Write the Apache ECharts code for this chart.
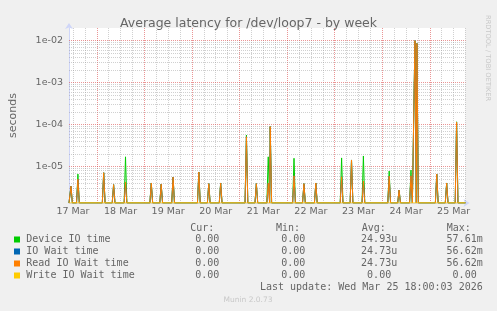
<!DOCTYPE html>
<html><head><meta charset="utf-8">
<script src="https://cdn.jsdelivr.net/npm/echarts@6/dist/echarts.min.js"></script>
<style>html,body{margin:0;padding:0;background:#F0F0F0;}#c{width:497px;height:311px;}</style>
</head><body><div id="c"></div>
<script>
// ---------- data ----------
const chartTitle = 'Average latency for /dev/loop7 - by week';
const yAxisName = 'seconds';
const dayLabels = ['17 Mar','18 Mar','19 Mar','20 Mar','21 Mar','22 Mar','23 Mar','24 Mar','25 Mar'];
// sample times in hours since 17 Mar 00:00 (values are zero between them)
const spikeHours = [11, 14.5, 27.5, 32.5, 38.5, 51.5, 56.5, 62.5, 75.5, 80.5, 86.5, 99.5, 104.5, 110.5, 111.5,
  123.5, 128.5, 134.5, 147.5, 152.5, 158.5, 171.5, 176.5, 182.5, 184.5, 185.5, 195.5, 200.5, 205.5];
const deviceIOTime = [3.4e-6, 6.6e-6, 7.1e-6, 3.7e-6, 1.7e-5, 4.05e-6, 3.8e-6, 5.6e-6, 7.4e-6, 3.9e-6, 4.05e-6, 5.6e-5, 3.9e-6, 1.7e-5, 8.9e-5,
  1.57e-5, 3.9e-6, 4.05e-6, 1.6e-5, 1.43e-5, 1.78e-5, 7.8e-6, 2.75e-6, 8.2e-6, 9.9e-3, 8.5e-3, 6.6e-6, 4.05e-6, 1.16e-4];
const ioWaitTime = [3.4e-6, 5.0e-6, 7.1e-6, 3.7e-6, 4.2e-6, 4.05e-6, 3.8e-6, 5.6e-6, 7.4e-6, 3.9e-6, 4.05e-6, 5.1e-5, 3.9e-6, 4.0e-6, 8.9e-5,
  6.0e-6, 3.9e-6, 4.05e-6, 5.7e-6, 1.43e-5, 4.5e-6, 5.9e-6, 2.75e-6, 6.0e-6, 9.9e-3, 8.5e-3, 6.6e-6, 4.05e-6, 1.13e-4];
const readIOWaitTime = [3.4e-6, 5.0e-6, 7.1e-6, 3.7e-6, 4.2e-6, 4.05e-6, 3.8e-6, 5.6e-6, 7.4e-6, 3.9e-6, 4.05e-6, 5.1e-5, 3.9e-6, 4.0e-6, 8.9e-5,
  6.0e-6, 3.9e-6, 4.05e-6, 5.7e-6, 1.43e-5, 4.5e-6, 5.9e-6, 2.75e-6, 6.0e-6, 9.9e-3, 8.5e-3, 6.6e-6, 4.05e-6, 1.13e-4];
const writeIOWaitTime = [0,0,0,0,0,0,0,0,0,0,0,0,0,0,0,0,0,0,0,0,0,0,0,0,0,0,0,0,0];
const seriesNames = ['Device IO time','IO Wait time','Read IO Wait time','Write IO Wait time'];
const curValues = ['0.00','0.00','0.00','0.00'];
const minValues = ['0.00','0.00','0.00','0.00'];
const avgValues = ['24.93u','24.73u','24.73u','0.00 '];
const maxValues = ['57.61m','56.62m','56.62m','0.00 '];
const lastUpdate = 'Last update: Wed Mar 25 18:00:03 2026';
const versionText = 'Munin 2.0.73';
const watermark = 'RRDTOOL / TOBI OETIKER';

// ---------- layout / style ----------
const colors = ['#00CC00','#0066B3','#FF8000','#FFCC00'];
const X_MIN = 10, X_MAX = 210;
const Y_MIN = Math.pow(10, -5 - 36.5/42), Y_MAX = Math.pow(10, -2 + 12.5/42);
const FONT = 'DejaVu Sans', MONO = 'DejaVu Sans Mono';
const TXT = '#666666';
const MAJOR = 'rgba(222,79,79,0.6)', MINOR = 'rgba(150,150,150,0.45)';
const HALF = 0.7; // half base width of a sample spike, in hours

function build(vals) {
  const pts = [[X_MIN, Y_MIN]];
  spikeHours.forEach((h, i) => {
    const v = vals[i] > 0 ? vals[i] : Y_MIN;
    pts.push([h - HALF, Y_MIN], [h, v], [h + HALF, Y_MIN]);
  });
  pts.push([X_MAX, Y_MIN]);
  return pts;
}

const gridLines = [];
for (let h = 12; h <= X_MAX; h += 6) {
  gridLines.push({xAxis: h, lineStyle: {color: h % 24 === 0 ? MAJOR : MINOR, type: [1, 1], width: 1}});
}
for (let e = -6; e <= -2; e++) {
  for (let m = 1; m <= 9; m++) {
    const v = m * Math.pow(10, e);
    if (v <= Y_MIN || v >= Y_MAX) continue;
    gridLines.push({yAxis: v, lineStyle: {color: m === 1 ? MAJOR : MINOR, type: [1, 1], width: 1}});
  }
}

const allVals = [deviceIOTime, ioWaitTime, readIOWaitTime, writeIOWaitTime];
const series = allVals.map((vals, i) => ({
  name: seriesNames[i], type: 'line', data: build(vals), symbol: 'none', showSymbol: false,
  lineStyle: {width: 1, color: colors[i]}, itemStyle: {color: colors[i]}, z: 2, animation: false
}));
series[0].markLine = {silent: true, symbol: ['none', 'none'], label: {show: false}, z: 1, animation: false, precision: 12,
  emphasis: {disabled: true}, data: gridLines};

// legend graphics
const CW = 6.02;
const rowsY = [239.5, 251.5, 263.5, 275.5];
const g = [];
function txt(x, y, s, opts) {
  g.push(Object.assign({type: 'text', x: x, y: y, silent: true,
    style: Object.assign({text: s, fill: TXT, font: '10px "' + MONO + '"', textAlign: 'left', textVerticalAlign: 'middle'}, opts || {})}));
}
txt(190.3, 228.3, 'Cur:'); txt(276, 228.3, 'Min:'); txt(361.7, 228.3, 'Avg:'); txt(446.7, 228.3, 'Max:');
seriesNames.forEach((n, i) => {
  const y = rowsY[i];
  g.push({type: 'rect', silent: true, shape: {x: 14, y: y - 3, width: 6, height: 6}, style: {fill: colors[i]}});
  txt(26.3, y, n);
  txt(219.3 - curValues[i].length * CW, y, curValues[i]);
  txt(305.3 - minValues[i].length * CW, y, minValues[i]);
  txt(397.2 - avgValues[i].length * CW, y, avgValues[i]);
  txt(482.7 - maxValues[i].length * CW, y, maxValues[i]);
});
txt(482.7 - lastUpdate.length * CW, 287.5, lastUpdate);
g.push({type: 'text', x: 248, y: 300, silent: true, style: {text: versionText, fill: '#c8c8c8', font: '7.5px "' + FONT + '"', textAlign: 'center', textVerticalAlign: 'middle'}});
g.push({type: 'text', x: 488, y: 15, rotation: -Math.PI / 2, silent: true, style: {text: watermark, fill: '#c8c8c8', font: '6.7px "' + FONT + '"', textAlign: 'left', textVerticalAlign: 'middle'}});

const chart = echarts.init(document.getElementById('c'), null, {renderer: 'canvas'});
chart.setOption({
  backgroundColor: '#F0F0F0',
  animation: false,
  title: {text: chartTitle, left: 'center', top: 12, textStyle: {color: TXT, fontFamily: FONT, fontSize: 12.5, fontWeight: 'normal'}},
  grid: {left: 65.5, right: 31.5, top: 28, bottom: 108, show: true, backgroundColor: '#FFFFFF', borderWidth: 0},
  xAxis: {
    type: 'value', min: X_MIN, max: X_MAX, interval: 2,
    axisLine: {show: true, onZero: false, lineStyle: {color: '#CFD6F8'}, symbol: ['none', 'arrow'], symbolSize: [6, 6], symbolOffset: [0, 4]},
    axisTick: {show: false}, splitLine: {show: false},
    axisLabel: {margin: 4, color: TXT, fontFamily: FONT, fontSize: 9.5, showMinLabel: true, showMaxLabel: true,
      formatter: v => { const r = Math.round(v); return (r >= 12 && (r - 12) % 24 === 0) ? (dayLabels[(r - 12) / 24] || '') : ''; }}
  },
  yAxis: {
    type: 'log', logBase: 10, min: Y_MIN, max: Y_MAX,
    name: yAxisName, nameLocation: 'middle', nameGap: 50,
    nameTextStyle: {color: TXT, fontFamily: FONT, fontSize: 11},
    axisLine: {show: true, lineStyle: {color: '#CFD6F8'}, symbol: ['none', 'arrow'], symbolSize: [6, 6], symbolOffset: [0, 5]},
    axisTick: {show: false}, splitLine: {show: false},
    axisLabel: {margin: 6, color: TXT, fontFamily: FONT, fontSize: 9.5,
      formatter: v => { const l = Math.log10(v); const r = Math.round(l); if (Math.abs(l - r) > 1e-6) return ''; return '1e' + (r < 0 ? '-' : '+') + String(Math.abs(r)).padStart(2, '0'); }}
  },
  series: series,
  graphic: g
});
</script></body></html>
